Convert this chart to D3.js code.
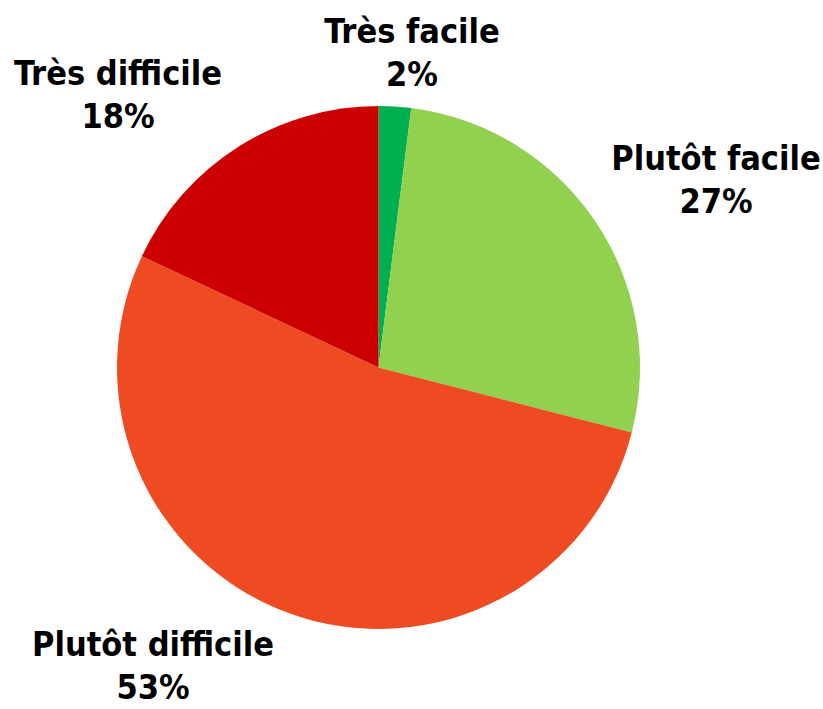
<!doctype html>
<html lang="fr">
<head>
<meta charset="utf-8">
<title>Pie chart</title>
<script src="https://cdn.jsdelivr.net/npm/d3@7"></script>
<style>
  body { margin: 0; background: #fff; }
  svg text { font-family: "DejaVu Sans Condensed", "DejaVu Sans", sans-serif; font-weight: bold; font-size: 34px; fill: #000; }
</style>
</head>
<body>
<svg id="chart" width="823" height="709"></svg>
<script>
// data
const categories = ["Très facile", "Plutôt facile", "Plutôt difficile", "Très difficile"];
const values = [2, 27, 53, 18];
const colors = ["#00b050", "#92d050", "#ee4b23", "#cc0000"];

// label layout: centre x and first-line baseline of each label
const labelPos = [[412, 43], [716, 170], [153, 656], [118, 85]];
const lineGap = 43;

const cx = 378.5, cy = 367.5, radius = 261.5;

const svg = d3.select("#chart");
const g = svg.append("g").attr("transform", `translate(${cx},${cy})`);

const pie = d3.pie().sort(null).value(d => d.value);
const arc = d3.arc().innerRadius(0).outerRadius(radius);

const rows = categories.map((c, i) => ({ name: c, value: values[i], color: colors[i], pos: labelPos[i] }));

g.selectAll("path")
  .data(pie(rows))
  .join("path")
  .attr("d", arc)
  .attr("fill", d => d.data.color);

const labels = svg.selectAll("text.lbl")
  .data(rows)
  .join("text")
  .attr("class", "lbl")
  .attr("text-anchor", "middle")
  .attr("x", d => d.pos[0])
  .attr("y", d => d.pos[1]);

labels.append("tspan")
  .attr("x", d => d.pos[0])
  .text(d => d.name);

labels.append("tspan")
  .attr("x", d => d.pos[0])
  .attr("dy", lineGap)
  .text(d => d.value + "%");
</script>
</body>
</html>
